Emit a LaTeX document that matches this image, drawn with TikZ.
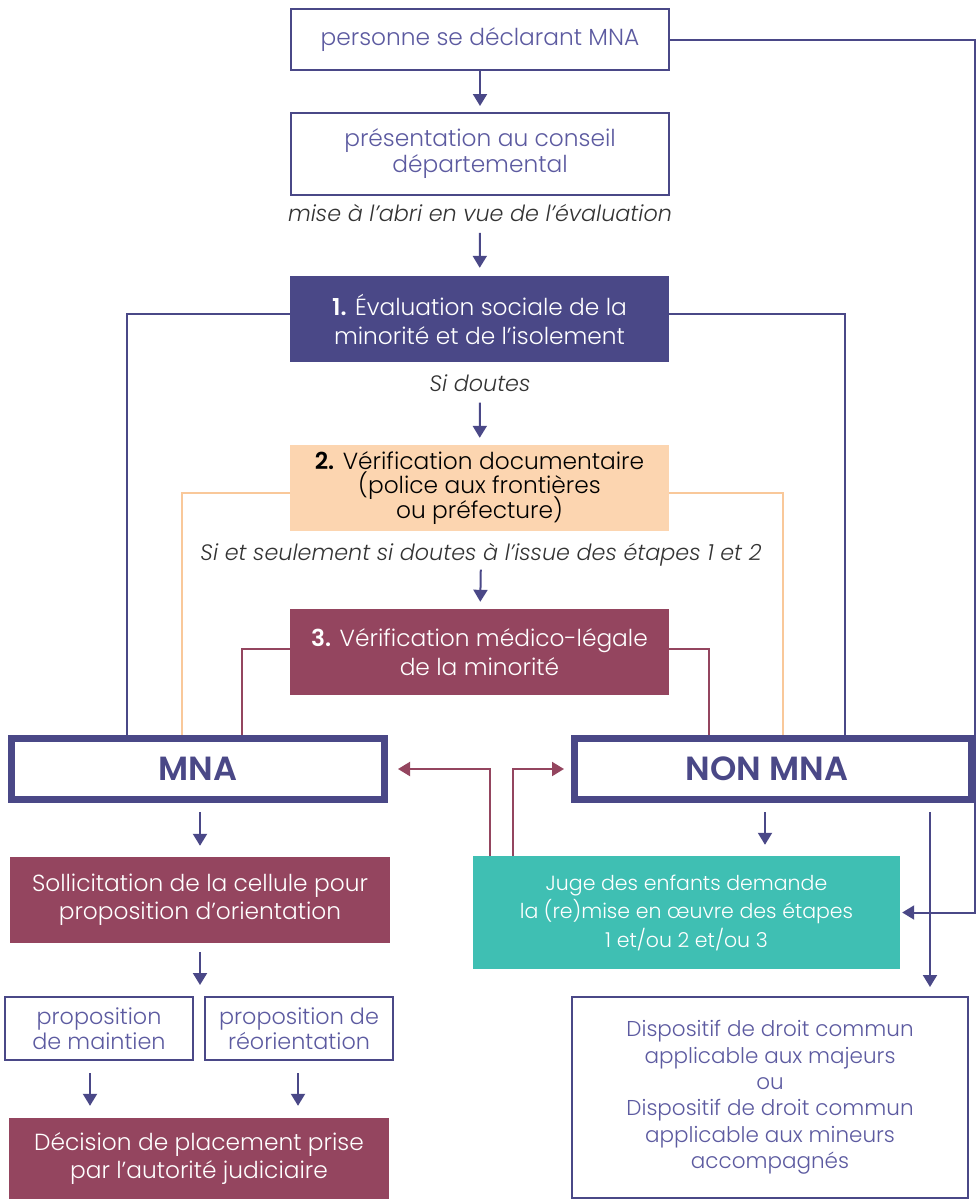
\documentclass[tikz,border=0pt]{standalone}
\usepackage{fontspec}
\setmainfont{Poppins}[UprightFont=* Light, BoldFont=* SemiBold, ItalicFont=* Light Italic, BoldItalicFont=* SemiBold Italic]
\usetikzlibrary{arrows.meta}
\newcommand\tightlns{\lineskiplimit=-30pt\relax}
\definecolor{navy}{HTML}{4A4887}
\definecolor{navytxt}{HTML}{5C5AA0}
\definecolor{peach}{HTML}{FCD5B0}
\definecolor{peachline}{HTML}{F9C89A}
\definecolor{maroon}{HTML}{94455F}
\definecolor{teal}{HTML}{3FBFB3}
\definecolor{greytxt}{HTML}{333333}
\tikzset{
  outlinebox/.style={draw=navy, line width=2pt, fill=white, text=navytxt, align=center, inner sep=0pt, font=\fontsize{23.3}{26}\selectfont\tightlns},
  filledbox/.style={draw=none, text=white, align=center, inner sep=0pt, font=\fontsize{23.3}{29}\selectfont\tightlns},
  bigbox/.style={draw=navy, line width=7pt, fill=white, text=navy, inner sep=0pt, minimum width=373pt, minimum height=61pt, font=\fontsize{33.5}{36}\selectfont\bfseries},
  cond/.style={text=greytxt, inner sep=1pt, font=\fontsize{22.3}{24}\selectfont\itshape},
  arr/.style={draw=navy, line width=2pt, -{Triangle[width=14pt,length=12pt]}},
  marr/.style={draw=maroon, line width=2pt, -{Triangle[width=14pt,length=12pt]}},
  navyline/.style={draw=navy, line width=2pt},
  peachln/.style={draw=peachline, line width=2pt},
  maroonline/.style={draw=maroon, line width=2pt},
}
\begin{document}
\begin{tikzpicture}[x=1pt,y=-1pt]
\useasboundingbox (0,0) rectangle (980,1200);
% nodes
\node[outlinebox, minimum width=378pt, minimum height=61pt] (A) at (480,39.5) {personne se déclarant MNA};
\node[outlinebox, minimum width=378pt, minimum height=82pt] (B) at (480,154) {présentation au conseil\\départemental};
\node[cond] (L1) at (480,213) {mise à l’abri en vue de l’évaluation};
\node[filledbox, fill=navy, minimum width=379pt, minimum height=86pt] (S1) at (479.5,319) {\textbf{1.} Évaluation sociale de la\\minorité et de l’isolement};
\node[cond] (L2) at (480,383) {Si doutes};
\node[filledbox, fill=peach, text=black, minimum width=379pt, minimum height=86pt, font=\fontsize{23.3}{24.5}\selectfont\tightlns] (S2) at (479.5,488) {\textbf{2.} Vérification documentaire\\(police aux frontières\\ou préfecture)};
\node[cond] (L3) at (481,555) {Si et seulement si doutes à l’issue des étapes 1 et 2};
\node[filledbox, fill=maroon, minimum width=379pt, minimum height=86pt] (S3) at (479.5,652) {\textbf{3.} Vérification médico-légale\\de la minorité};
\node[bigbox] (MNA) at (198,769) {MNA};
\node[bigbox, minimum width=397pt] (NON) at (773,769) {NON MNA\hspace*{12pt}};
\node[filledbox, fill=maroon, minimum width=380pt, minimum height=86pt, font=\fontsize{23.3}{28}\selectfont\tightlns] (SOL) at (200,900) {Sollicitation de la cellule pour\\proposition d’orientation};
\node[filledbox, fill=teal, minimum width=427pt, minimum height=113pt, font=\fontsize{20.5}{28.5}\selectfont\tightlns] (JUGE) at (686.5,912.5) {Juge des enfants demande\\la (re)mise en œuvre des étapes\\1 et/ou 2 et/ou 3};
\node[outlinebox, minimum width=188pt, minimum height=63pt, font=\fontsize{22.3}{25}\selectfont\tightlns] (P1) at (99,1028.5) {proposition\\de maintien};
\node[outlinebox, minimum width=188pt, minimum height=63pt, font=\fontsize{22.3}{25}\selectfont\tightlns] (P2) at (299,1028.5) {proposition de\\réorientation};
\node[filledbox, fill=maroon, minimum width=380pt, minimum height=81pt, font=\fontsize{23.3}{28}\selectfont\tightlns] (DEC) at (199,1158.5) {Décision de placement prise\\par l’autorité judiciaire};
\node[outlinebox, minimum width=396pt, minimum height=201pt, font=\fontsize{21.5}{26.4}\selectfont\tightlns] (DISP) at (770,1097.5) {Dispositif de droit commun\\applicable aux majeurs\\ou\\Dispositif de droit commun\\applicable aux mineurs\\accompagnés};
% vertical flow arrows
\draw[arr, shorten >=6pt] (A) -- (B);
\draw[arr, shorten <=10pt, shorten >=8pt] (L1) -- (S1);
\draw[arr, shorten <=10pt, shorten >=7pt] (L2) -- (S2);
\draw[arr, shorten <=2pt, shorten >=7pt] (L3) -- (S3);
% side connectors to MNA / NON MNA
\draw[navyline] ([yshift=5pt]S1.west) -| ([xshift=-71pt]MNA.north);
\draw[navyline] ([yshift=5pt]S1.east) -| ([xshift=72pt]NON.north);
\draw[peachln] ([yshift=-5pt]S2.west) -| ([xshift=-16pt]MNA.north);
\draw[peachln] ([yshift=-5pt]S2.east) -| ([xshift=10pt]NON.north);
\draw[maroonline] ([yshift=3pt]S3.west) -| ([xshift=44pt]MNA.north);
\draw[maroonline] ([yshift=3pt]S3.east) -| ([xshift=-64pt]NON.north);
% juge back to MNA / NON MNA
\draw[marr, shorten >=10pt] ([xshift=-196.5pt]JUGE.north) |- (MNA.east);
\draw[marr, shorten >=7pt] ([xshift=-173.5pt]JUGE.north) |- (NON.west);
% MNA branch
\draw[arr, shorten <=9pt, shorten >=11pt] ([xshift=2pt]MNA.south) -- ([xshift=2pt]MNA.south |- SOL.north);
\draw[arr, shorten <=9pt, shorten >=11pt] (SOL.south) -- (SOL.south |- P1.north);
\draw[arr, shorten <=12pt, shorten >=12pt] ([xshift=-9pt]P1.south) -- ([xshift=-9pt]P1.south |- DEC.north);
\draw[arr, shorten <=12pt, shorten >=12pt] ([xshift=-1pt]P2.south) -- ([xshift=-1pt]P2.south |- DEC.north);
% NON MNA branch
\draw[arr, shorten <=9pt, shorten >=11pt] ([xshift=-8pt]NON.south) -- ([xshift=-8pt]NON.south |- JUGE.north);
\draw[arr, shorten <=9pt, shorten >=9pt] ([xshift=157pt]NON.south) -- ([xshift=157pt]NON.south |- DISP.north);
% outer return
\coordinate (RC) at (975,39.5);
\draw[arr, shorten >=2pt] (A.east) -- (RC) |- (JUGE.east);
\end{tikzpicture}
\end{document}
